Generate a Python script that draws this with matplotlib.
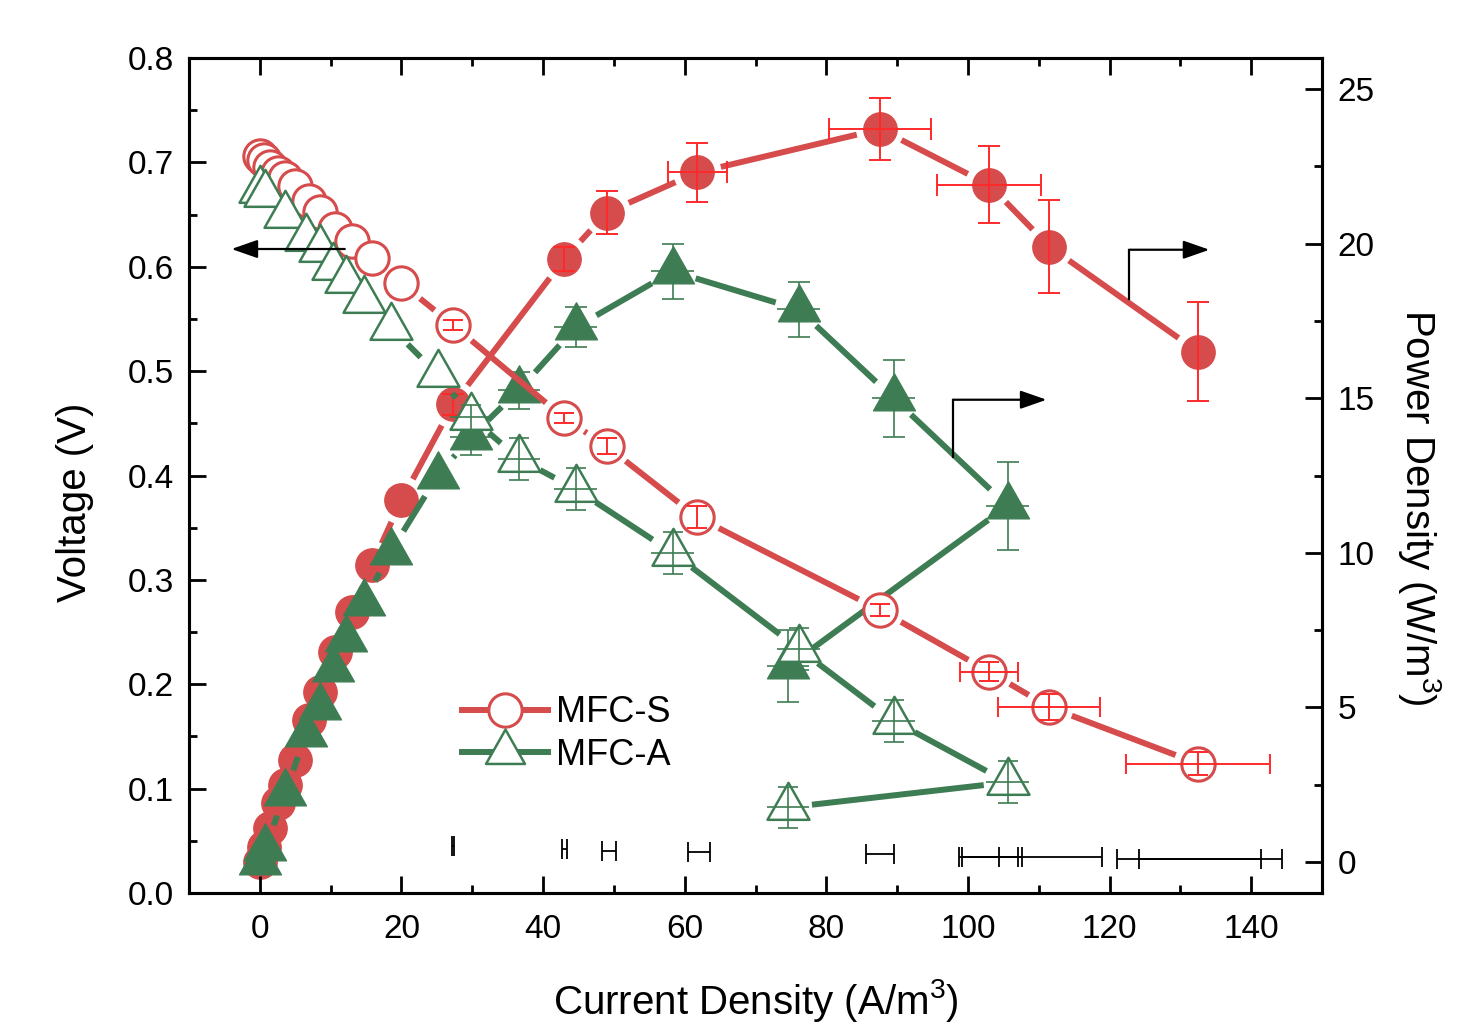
import numpy as np
import matplotlib
matplotlib.use("Agg")
import matplotlib.pyplot as plt
from matplotlib.path import Path
from matplotlib.collections import LineCollection
from matplotlib.lines import Line2D
from matplotlib.patches import ArrowStyle
from matplotlib.ticker import MultipleLocator, FormatStrFormatter

plt.rcParams["font.family"] = ["Liberation Sans", "DejaVu Sans"]
plt.rcParams["mathtext.fontset"] = "custom"
plt.rcParams["mathtext.rm"] = "Liberation Sans"
plt.rcParams["mathtext.it"] = "Liberation Sans:italic"

# ---- MFC-S: current density (A/m3), voltage (V), power density (W/m3) ----
I_S = [0.0, 0.6, 1.5, 2.6, 3.6, 4.9, 6.9, 8.5, 10.6, 13.0, 15.8, 20.0,
       27.3, 43.0, 49.0, 61.8, 87.6, 103.0, 111.5, 132.5]
V_S = [0.706, 0.702, 0.696, 0.690, 0.685, 0.677, 0.663, 0.652, 0.636, 0.625,
       0.608, 0.584, 0.544, 0.455, 0.428, 0.360, 0.271, 0.212, 0.178, 0.124]
P_S = [0.0, 0.5, 1.1, 1.9, 2.5, 3.3, 4.6, 5.5, 6.8, 8.1, 9.6, 11.7,
       14.8, 19.5, 21.0, 22.3, 23.7, 21.9, 19.9, 16.5]
V_S_yerr = [0, 0, 0, 0, 0, 0, 0, 0, 0, 0, 0, 0,
            0.005, 0.005, 0.0077, 0.0105, 0.006, 0.009, 0.0125, 0.011]
V_S_xerr = [0, 0, 0, 0, 0, 0, 0, 0, 0, 0, 0, 0,
            0, 0, 0, 0, 0, 4.1, 7.2, 10.2]
P_S_yerr = [0, 0, 0, 0, 0, 0, 0, 0, 0, 0, 0, 0,
            0.35, 0.4, 0.7, 0.95, 1.0, 1.25, 1.5, 1.6]
P_S_xerr = [0, 0, 0, 0, 0, 0, 0, 0, 0, 0, 0, 0,
            0, 0, 0, 4.2, 7.2, 7.3, 0, 0]

# ---- MFC-A ----
I_A = [0.0, 0.8, 3.6, 6.5, 8.5, 10.4, 12.2, 14.7, 18.5, 25.1, 29.8, 36.6,
       44.6, 58.3, 76.1, 89.5, 105.6, 74.6]
V_A = [0.674, 0.670, 0.650, 0.628, 0.617, 0.600, 0.587, 0.568, 0.542, 0.497,
       0.456, 0.416, 0.387, 0.326, 0.234, 0.165, 0.106, 0.082]
P_A = [0.0, 0.46, 2.23, 4.13, 5.0, 6.23, 7.2, 8.39, 10.04, 12.49, 13.75, 15.26,
       17.29, 19.1, 17.87, 15.0, 11.52, 6.33]
V_A_yerr = [0, 0, 0, 0, 0, 0, 0, 0, 0, 0, 0.012, 0.02,
            0.02, 0.02, 0.02, 0.02, 0.02, 0.02]
V_A_xerr = [0, 0, 0, 0, 0, 0, 0, 0, 0, 0, 3.0, 3.0,
            3.0, 3.0, 3.0, 3.0, 3.0, 3.0]
P_A_yerr = [0, 0, 0, 0, 0, 0, 0, 0, 0, 0, 0.6, 0.6,
            0.65, 0.9, 0.9, 1.24, 1.42, 1.16]
P_A_xerr = [0, 0, 0, 0, 0, 0, 0, 0, 0, 0, 3.0, 3.0,
            3.0, 3.0, 3.0, 3.0, 3.0, 3.0]

# ---- stray current-density error bars sitting near zero power ----
G_I = [27.3, 43.0, 49.3, 62.0, 87.6, 103.2, 103.1, 111.7, 132.7, 132.8]
G_P = [0.52, 0.42, 0.35, 0.32, 0.26, 0.16, 0.16, 0.16, 0.10, 0.10]
G_xerr = [0.15, 0.35, 1.0, 1.6, 2.0, 4.4, 3.9, 7.3, 11.7, 8.6]

RED = "#d64b4b"
RED_ERR = "#ff2a2a"
GREEN = "#3e7d53"

# triangle marker centred on its centroid
TRI = Path([(0, 1), (-0.85, -0.5), (0.85, -0.5), (0, 1)],
           [Path.MOVETO, Path.LINETO, Path.LINETO, Path.CLOSEPOLY])

fig = plt.figure(figsize=(14.79, 10.35), dpi=100)
ax = fig.add_axes([189 / 1479, 1 - 893 / 1035, (1322 - 189) / 1479, (893 - 58) / 1035])
ax2 = ax.twinx()

ax.set_xlim(-10, 150)
ax.set_ylim(0.0, 0.8)
ax2.set_ylim(-1, 26)

# voltage axes above power axes
ax.set_zorder(2)
ax2.set_zorder(1)
ax.patch.set_visible(False)
ax2.patch.set_visible(True)
ax2.patch.set_facecolor("white")


def gapped_line(axis, xs, ys, color, lw, gap=24, z=2):
    """Connect points with segments stopping short of each marker."""
    xy = np.column_stack([np.asarray(xs, float), np.asarray(ys, float)])
    pts = axis.transData.transform(xy)
    inv = axis.transData.inverted()
    segs = []
    for a, b in zip(pts[:-1], pts[1:]):
        d = b - a
        length = np.hypot(d[0], d[1])
        if length <= 2 * gap:
            continue
        u = d / length
        segs.append(inv.transform(np.vstack([a + u * gap, b - u * gap])))
    axis.add_collection(LineCollection(segs, colors=color, linewidths=lw,
                                       zorder=z, capstyle="butt"), autolim=False)


def errbars(axis, xs, ys, xerr, yerr, color, lw, capsize, z):
    xs = np.asarray(xs, float)
    ys = np.asarray(ys, float)
    xerr = np.asarray(xerr, float)
    yerr = np.asarray(yerr, float)
    my = yerr > 0
    if my.any():
        axis.errorbar(xs[my], ys[my], yerr=yerr[my], fmt="none", ecolor=color,
                      elinewidth=lw, capsize=capsize, capthick=lw, zorder=z)
    mx = xerr > 0
    if mx.any():
        axis.errorbar(xs[mx], ys[mx], xerr=xerr[mx], fmt="none", ecolor=color,
                      elinewidth=lw, capsize=capsize, capthick=lw, zorder=z)


LW = 4.3

# power density (right axis)
gapped_line(ax2, I_S, P_S, RED, LW, z=2)
ax2.plot(I_S, P_S, ls="none", marker="o", ms=24, mfc=RED, mec=RED, zorder=3)
errbars(ax2, I_S, P_S, P_S_xerr, P_S_yerr, RED_ERR, 1.4, 8, 4)

gapped_line(ax2, I_A, P_A, GREEN, LW, z=5)
ax2.plot(I_A, P_A, ls="none", marker=TRI, ms=35.5, mfc=GREEN, mec=GREEN, zorder=6)
errbars(ax2, I_A, P_A, [0] * len(I_A), P_A_yerr, GREEN, 1.2, 8, 7)
errbars(ax2, I_A, P_A, P_A_xerr, [0] * len(I_A), GREEN, 1.2, 0, 7)

ax2.errorbar(G_I, G_P, xerr=G_xerr, fmt="none", ecolor="black", elinewidth=1.3,
             capsize=7, capthick=1.3, zorder=8)

# voltage (left axis)
gapped_line(ax, I_S, V_S, RED, LW, z=2)
ax.plot(I_S, V_S, ls="none", marker="o", ms=24, mfc="white", mec=RED, mew=2.2, zorder=3)
errbars(ax, I_S, V_S, V_S_xerr, V_S_yerr, RED_ERR, 1.4, 7, 4)

gapped_line(ax, I_A, V_A, GREEN, LW, z=5)
ax.plot(I_A, V_A, ls="none", marker=TRI, ms=35.5, mfc="white", mec=GREEN, mew=1.8, zorder=6)
errbars(ax, I_A, V_A, [0] * len(I_A), V_A_yerr, GREEN, 1.2, 7, 7)
errbars(ax, I_A, V_A, V_A_xerr, [0] * len(I_A), GREEN, 1.2, 0, 7)

# direction arrows
head = ArrowStyle("-|>", head_length=0.8, head_width=0.28)
ax.annotate("", xy=(-4.0, 0.617), xytext=(12.0, 0.617),
            arrowprops=dict(arrowstyle=head, color="black", lw=1.6,
                            mutation_scale=20, shrinkA=0, shrinkB=0), zorder=9)
ax2.plot([122.8, 122.8], [18.2, 19.8], color="black", lw=1.6, zorder=9)
ax2.annotate("", xy=(134.1, 19.8), xytext=(122.8, 19.8),
             arrowprops=dict(arrowstyle=head, color="black", lw=1.6,
                             mutation_scale=20, shrinkA=0, shrinkB=0), zorder=9)
ax2.plot([97.9, 97.9], [13.1, 14.95], color="black", lw=1.6, zorder=9)
ax2.annotate("", xy=(111.1, 14.95), xytext=(97.9, 14.95),
             arrowprops=dict(arrowstyle=head, color="black", lw=1.6,
                             mutation_scale=20, shrinkA=0, shrinkB=0), zorder=9)

# ticks and spines
ax.xaxis.set_major_locator(MultipleLocator(20))
ax.xaxis.set_minor_locator(MultipleLocator(10))
ax.yaxis.set_major_locator(MultipleLocator(0.1))
ax.yaxis.set_minor_locator(MultipleLocator(0.05))
ax2.yaxis.set_major_locator(MultipleLocator(5))
ax2.yaxis.set_minor_locator(MultipleLocator(2.5))
ax.yaxis.set_major_formatter(FormatStrFormatter("%.1f"))

ax.tick_params(axis="both", which="both", direction="in", top=True, right=False,
               width=2.0, labelsize=24)
ax.tick_params(axis="both", which="major", length=12)
ax.tick_params(axis="both", which="minor", length=6)
ax.tick_params(axis="x", pad=15)
ax.tick_params(axis="y", pad=11)
ax2.tick_params(axis="y", which="both", direction="in", width=2.0, labelsize=24, pad=11)
ax2.tick_params(axis="y", which="major", length=12)
ax2.tick_params(axis="y", which="minor", length=6)
for a in (ax, ax2):
    for sp in a.spines.values():
        sp.set_linewidth(2.2)

ax.set_xlabel("Current Density (A/m$^3$)", fontsize=29)
ax.xaxis.set_label_coords(0.5, -(1000 - 893) / 835)
ax.xaxis.label.set_va("center")

ax.set_ylabel("Voltage (V)", fontsize=29, va="center", ha="center")
ax.yaxis.set_label_coords(-(189 - 75) / 1133, (893 - 502) / 835)

ax2.set_ylabel("Power Density (W/m$^3$)", fontsize=29, rotation=270, va="center", ha="center")
ax2.yaxis.set_label_coords((1420 - 189) / 1133, (893 - 507) / 835)

handles = [
    Line2D([], [], color=RED, lw=LW, marker="o", ms=24, mfc="white", mec=RED, mew=2.2),
    Line2D([], [], color=GREEN, lw=LW, marker=TRI, ms=33, mfc="white", mec=GREEN, mew=1.8),
]
ax.legend(handles, ["MFC-S", "MFC-A"], loc="upper left", bbox_to_anchor=(0.228, 0.254),
          frameon=False, fontsize=26, handlelength=2.4, handletextpad=0.2,
          labelspacing=0.2, borderaxespad=0)

fig.savefig("out.png", dpi=100, facecolor="white")
